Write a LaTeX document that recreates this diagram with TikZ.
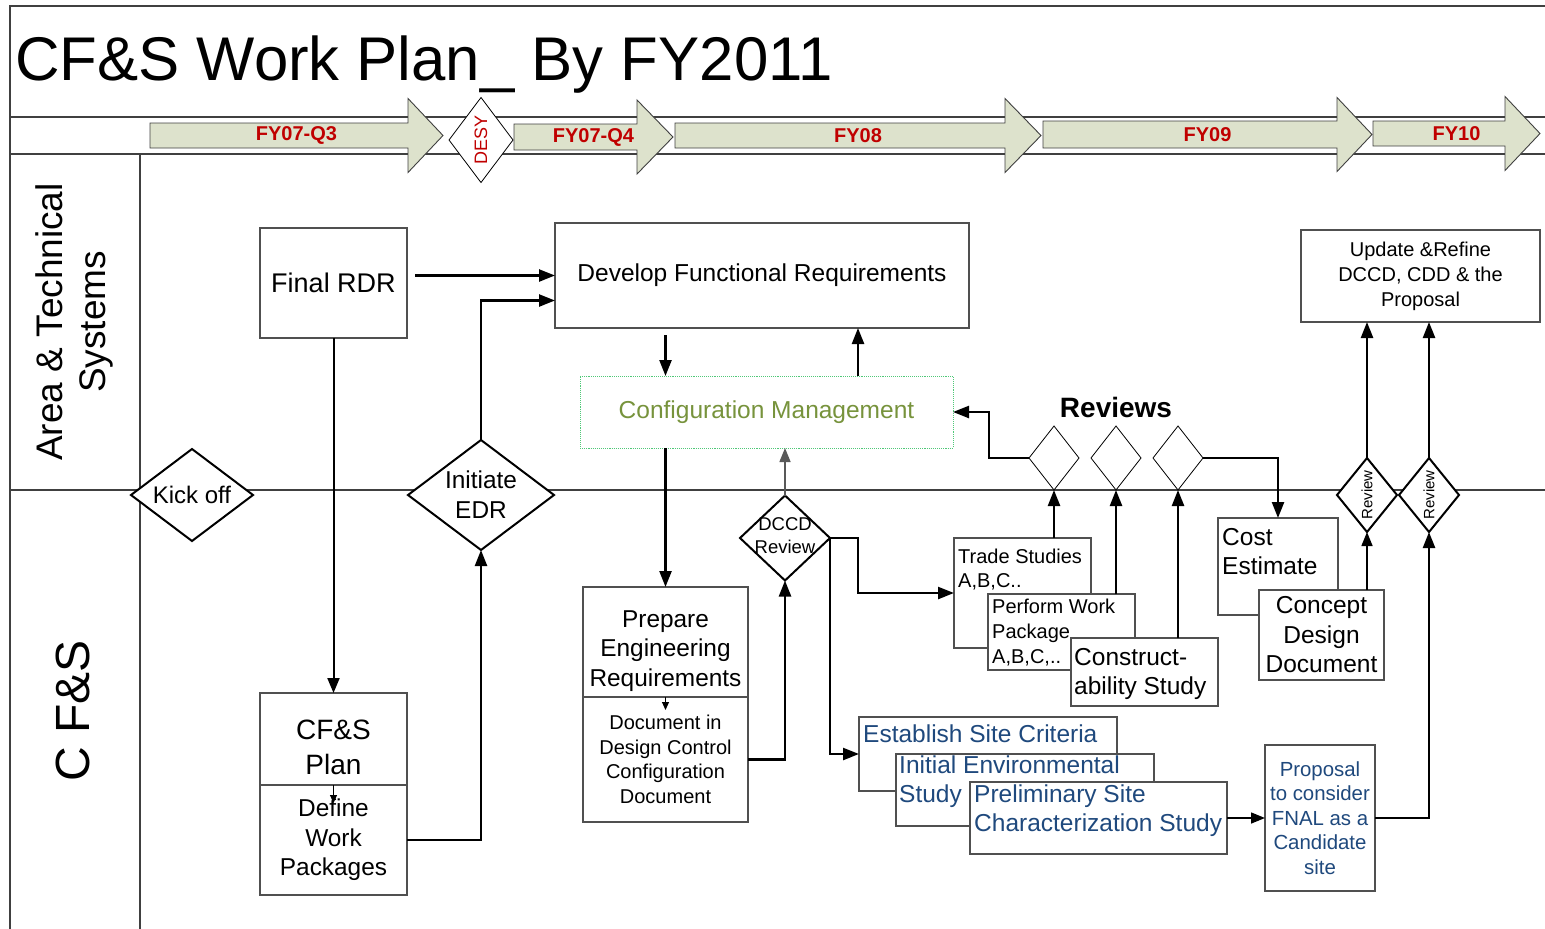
\documentclass[tikz,border=0pt]{standalone}
\usepackage{fontspec}
\setmainfont{Liberation Sans}
\usetikzlibrary{shapes.geometric,arrows.meta,calc}

\definecolor{tlfill}{RGB}{221,226,204}
\definecolor{fyred}{RGB}{192,0,0}
\definecolor{cmgreen}{RGB}{80,200,120}
\definecolor{cmolive}{RGB}{119,147,60}
\definecolor{siteblue}{RGB}{31,73,125}
\definecolor{boxgray}{RGB}{80,80,80}
\newcommand{\setfs}[2]{\fontsize{#1}{#2}\selectfont}

\begin{document}
\begin{tikzpicture}
[
  x=1pt,
  y=-1pt,
  lane/.style={draw=black!75,line width=1.1pt},
  tl/.style={draw=black!75,fill=tlfill,line width=0.9pt},
  fy/.style={text=fyred,font=\bfseries\setfs{20}{23}},
  box/.style={draw=boxgray,line width=1.1pt,fill=white,inner sep=0pt,outer sep=0pt},
  txt/.style={inner sep=0pt,align=center},
  ltxt/.style={inner sep=0pt,align=left,anchor=north west},
  dia/.style={diamond,draw,line width=2pt,fill=white,inner sep=0pt,outer sep=0pt},
  thindia/.style={dia,line width=0.8pt},
  arr/.style={line width=2.4pt,-{Triangle[length=16pt,width=12pt]}},
  thinarr/.style={line width=1.5pt,-{Triangle[length=14pt,width=11pt]}},
  tinyarr/.style={line width=1pt,-{Triangle[length=8pt,width=7pt]}}
]

\useasboundingbox (0,0) rectangle (1545,929);

% Lanes
\draw[lane] (10,929) -- (10,6) -- (1545,6);
\draw[lane] (10,117) -- (1545,117);
\draw[lane] (10,154) -- (1545,154);
\draw[lane] (140,154) -- (140,929);
\draw[lane] (10,490) -- (1545,490);

\node[anchor=base west,inner sep=0pt,font=\setfs{61.7}{72}] (title) at (15,80) {CF\&S Work Plan\_ By FY2011};
\node[txt,rotate=90,font=\setfs{37}{43}] (lane1) at (74,322) {Area \& Technical\\Systems};
\node[txt,rotate=90,font=\setfs{48}{56}] (lane2) at (73,711) {C F\&S};

% Timeline
\foreach \xa/\xb/\xc/\ya/\yb/\lbl [count=\i] in {150/408/443/123/148/FY07-Q3, 514/637/673/124/150/FY07-Q4, 675/1005/1041/123/148/FY08, 1043/1337/1372/121/148/FY09, 1373/1505/1540/121/146/FY10} {
  \pgfmathsetmacro{\ym}{(\ya+\yb)/2}
  \draw[tl] (\xa,\ya) -- (\xb,\ya) -- (\xb,\ym-37) -- (\xc,\ym) -- (\xb,\ym+37) -- (\xb,\yb) -- (\xa,\yb) -- cycle;
  \node[fy] (fy\i) at ({(\xa+\xc)/2},\ym) {\lbl};
}
\node[thindia,minimum width=64,minimum height=85] (desy) at (481,140) {};
\node[txt,rotate=90,text=fyred,font=\setfs{18}{21}] (desyt) at (desy) {DESY};

% Area & Technical Systems lane
\node[box,minimum width=147,minimum height=110,font=\setfs{27}{32}] (rdr) at (333.5,283) {Final RDR};
\node[box,minimum width=414,minimum height=105,font=\setfs{24.5}{29}] (dfr) at (762,275.5) {Develop Functional Requirements};
\node[box,draw=cmgreen,densely dotted,line width=0.8pt,minimum width=373,minimum height=72,text=cmolive,font=\setfs{24.5}{29}] (cm) at (766.5,412) {Configuration Management};
\node[box,minimum width=239,minimum height=92,align=center,font=\setfs{20}{25}] (upd) at (1420.5,276) {Update \&Refine\\DCCD, CDD \& the\\Proposal};
\node[font=\bfseries\setfs{28}{32},inner sep=0pt] (revs) at (1116,407) {Reviews};

% C F&S lane
\node[box,minimum width=147,minimum height=92] (plan) at (333.5,739) {};
\node[txt,font=\setfs{28}{35}] (plant) at ($(plan)+(0,8)$) {CF\&S\\Plan};
\node[box,minimum width=147,minimum height=110,align=center,font=\setfs{24.4}{29.5}] (wp) at (333.5,840) {Define\\Work\\Packages};
\node[box,minimum width=165,minimum height=110] (prep) at (665.5,642) {};
\node[txt,font=\setfs{24.4}{29.5}] (prept) at ($(prep)+(0,9)$) {Prepare\\Engineering\\Requirements};
\node[box,minimum width=165,minimum height=125,align=center,font=\setfs{20}{24.6}] (doc) at (665.5,759.5) {Document in\\Design Control\\Configuration\\Document};

\node[box,minimum width=137,minimum height=110] (trade) at (1022.5,593) {};
\node[ltxt,font=\setfs{20}{24}] (tradet) at ($(trade.north west)+(4,11)$) {Trade Studies\\A,B,C..};
\node[box,minimum width=147,minimum height=76] (pwp) at (1061.5,632) {};
\node[ltxt,font=\setfs{20}{25}] (pwpt) at ($(pwp.north west)+(4,5)$) {Perform Work\\Package\\A,B,C,..};
\node[box,minimum width=147,minimum height=68] (cons) at (1144.5,672) {};
\node[ltxt,font=\setfs{24.5}{29}] (const) at ($(cons.north west)+(3,10)$) {Construct-\\ability Study};

\node[box,minimum width=120,minimum height=97] (cost) at (1278,566.5) {};
\node[ltxt,font=\setfs{24.5}{29}] (costt) at ($(cost.north west)+(4,10)$) {Cost\\Estimate};
\node[box,minimum width=125,minimum height=90,align=center,font=\setfs{24.5}{29.5}] (conc) at (1321.5,635) {Concept\\Design\\Document};

\node[box,minimum width=258,minimum height=74] (esc) at (988,754) {};
\node[ltxt,text=siteblue,font=\setfs{24.5}{29}] (esct) at ($(esc.north west)+(4,8)$) {Establish Site Criteria};
\node[box,minimum width=258,minimum height=72] (ies) at (1025,790) {};
\node[ltxt,text=siteblue,font=\setfs{24.5}{29}] (iest) at ($(ies.north west)+(3,2)$) {Initial Environmental\\Study};
\node[box,minimum width=257,minimum height=72] (psc) at (1098.5,818) {};
\node[ltxt,text=siteblue,font=\setfs{24.5}{29}] (psct) at ($(psc.north west)+(4,3)$) {Preliminary Site\\Characterization Study};
\node[box,minimum width=110,minimum height=146,align=center,text=siteblue,font=\setfs{20.4}{24.5}] (prop) at (1320,818) {Proposal\\to consider\\FNAL as a\\Candidate\\site};

% Decisions
\node[dia,minimum width=122,minimum height=92] (kick) at (192,495) {};
\node[txt,font=\setfs{24}{29}] (kickt) at (kick) {Kick off};
\node[dia,minimum width=146,minimum height=110] (edr) at (481,495) {};
\node[txt,font=\setfs{24.4}{30}] (edrt) at (edr) {Initiate\\EDR};
\node[dia,minimum width=90,minimum height=85] (dccd) at (785,538) {};
\node[txt,font=\setfs{18.5}{23}] (dccdt) at ($(dccd)+(0,-2.5)$) {DCCD\\Review};
\foreach \x [count=\i] in {1054,1116,1178} {
  \node[thindia,minimum width=50,minimum height=64] (rv\i) at (\x,458) {};
}
\foreach \x [count=\i] in {1367,1429} {
  \node[dia,minimum width=60,minimum height=74] (rev\i) at (\x,495) {};
  \node[txt,rotate=90,font=\setfs{15}{18}] (rev\i t) at (rev\i) {Review};
}

% Connectors
\coordinate (a1) at ($(rdr.east)+(8,0)$);
\draw[arr] (a1 |- dfr.west) -- (dfr.west);
\draw[arr] (edr.north) |- ($(dfr.west)+(0,25)$);
\draw[line width=2pt,-{Triangle[length=15pt,width=12pt]}] (rdr.south) -- (plan.north);
\draw[arr] (wp.east) -| (edr.south);
\coordinate (c1) at ($(dfr.south -| prep.north)+(0,7)$);
\draw[arr] (c1) -- (c1 |- cm.north);
\coordinate (c2) at ($(cm.north)+(91.5,0)$);
\draw[arr] (c2) -- (c2 |- dfr.south);
\draw[arr] (cm.south -| prep.north) -- (prep.north);
\draw[thinarr,draw=black!65] (dccd.north) -- (dccd.north |- cm.south);
\draw[arr] (doc.east) -| (dccd.south);
\draw[arr] (dccd.east) -- ++(28,0) |- (trade.west);
\draw[arr] (dccd.east) |- (esc.west);
\draw[arr] (rv1.south |- trade.north) -- (rv1.south);
\draw[arr] (rv2.south |- pwp.north) -- (rv2.south);
\draw[arr] (rv3.south |- cons.north) -- (rv3.south);
\draw[arr] (rv1.west) -- ++(-40,0) |- (cm.east);
\draw[arr] (rv3.east) -| (cost.north);
\draw[thinarr] (rev1.south |- conc.north) -- (rev1.south);
\draw[arr] (rev1.north) -- (rev1.north |- upd.south);
\draw[thinarr] (psc.east) -- (prop.west);
\draw[arr] (prop.east) -| (rev2.south);
\draw[arr] (rev2.north) -- (rev2.north |- upd.south);
\draw[tinyarr] (plan.south) -- ++(0,18);
\draw[tinyarr] (prep.south) -- ++(0,13);

\end{tikzpicture}
\end{document}
